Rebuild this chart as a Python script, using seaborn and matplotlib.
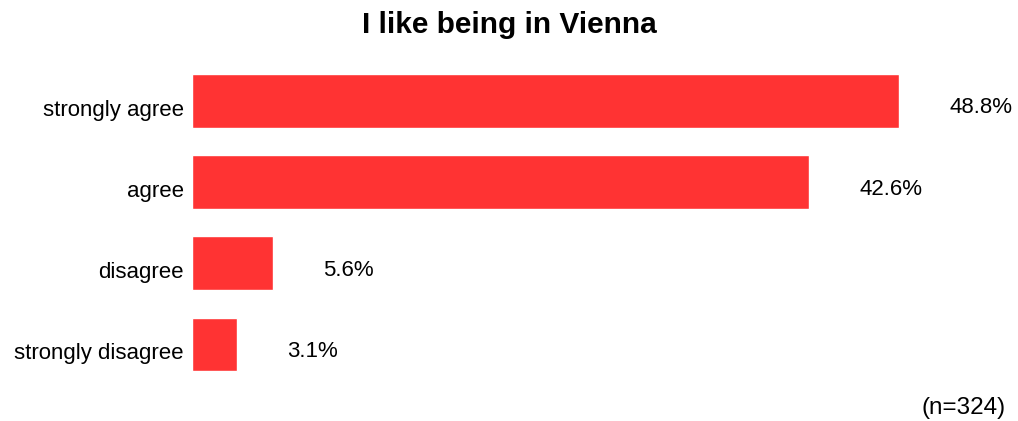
import matplotlib
matplotlib.use("Agg")
import matplotlib.pyplot as plt
import matplotlib.transforms as mtransforms
import pandas as pd
import seaborn as sns

categories = ["strongly agree", "agree", "disagree", "strongly disagree"]
shares = [48.8, 42.6, 5.6, 3.1]
labels = ["48.8%", "42.6%", "5.6%", "3.1%"]
title = "I like being in Vienna"
note = "(n=324)"

sns.set_theme(style="white")
plt.rcParams["font.family"] = ["Liberation Sans", "DejaVu Sans"]

df = pd.DataFrame({"answer": categories, "share": shares})

fig = plt.figure(figsize=(10.18, 4.21), dpi=100)
ax = fig.add_axes([0.1886, 0.0855, 0.793, 0.7715])
sns.barplot(data=df, x="share", y="answer", color="#FF3333", saturation=1,
            width=0.66, ax=ax)

# labels sit slightly below the bar centre in the original
shift = mtransforms.ScaledTranslation(0, -0.07, fig.dpi_scale_trans)
for i, (v, lab) in enumerate(zip(shares, labels)):
    ax.text(v + 3.45, i, lab, va="center", ha="left", fontsize=16,
            color="black", transform=ax.transData + shift)

ax.set_xlim(0, 55.7)
ax.set_ylim(3.5, -0.5)
ax.set_xlabel(""); ax.set_ylabel("")
ax.set_xticks([])
ax.tick_params(axis="y", length=0, pad=6, labelsize=16, labelcolor="black")
for t in ax.get_yticklabels():
    t.set_transform(t.get_transform() + shift)
sns.despine(ax=ax, left=True, bottom=True)

fig.suptitle(title, fontsize=21.5, fontweight="bold", color="black",
             x=0.5, y=0.975, va="top")
fig.text(0.988, 0.03, note, ha="right", va="center", fontsize=17.5, color="black")

fig.savefig("out.png", dpi=100)
